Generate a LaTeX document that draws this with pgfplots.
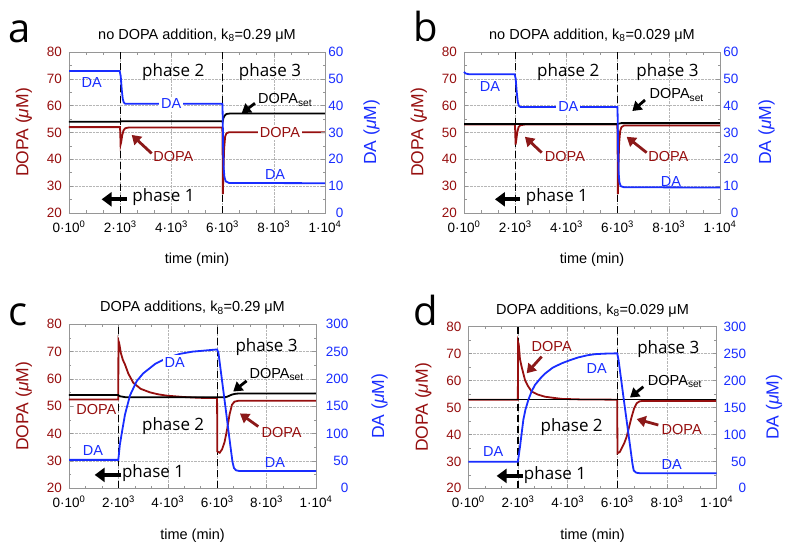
\documentclass[border=0pt]{standalone}
\usepackage{fontspec}
\setmainfont{Liberation Sans}
\newfontfamily\phasefont{Open Sans}
\usepackage{pgfplots}
\pgfplotsset{compat=1.18}
\usetikzlibrary{arrows.meta}
\definecolor{dred}{RGB}{150,15,15}
\definecolor{ared}{RGB}{140,25,25}
\definecolor{dblue}{RGB}{25,45,255}
\definecolor{axgray}{RGB}{150,150,150}
\newcommand{\fs}[1]{\fontsize{#1}{#1}\selectfont}
\tikzset{
  dopa/.style={dred, line width=1.8pt},
  da/.style={dblue, line width=1.8pt},
  dset/.style={black, line width=1.8pt},
  vdash/.style={black, line width=1.1pt, dash pattern=on 7pt off 4pt},
  lab/.style={font=\fs{14.5}, inner sep=1pt},
  wlab/.style={font=\fs{14.5}, inner sep=2pt, fill=white},
  phase/.style={font=\phasefont\fs{17}},
  arr/.style={line width=2.8pt, -{Triangle[length=9pt,width=11pt]}},
  barr/.style={black, line width=4pt, -{Triangle[length=10pt,width=14pt]}},
}
\pgfplotsset{
  leftax/.style={scale only axis, xmin=0,xmax=10000, ymin=20,ymax=80,
    xtick={0,2000,4000,6000,8000,10000}, scaled x ticks=false,
    xticklabels={0·10\textsuperscript{0},2·10\textsuperscript{3},4·10\textsuperscript{3},6·10\textsuperscript{3},8·10\textsuperscript{3},1·10\textsuperscript{4}},
    ytick={20,30,...,80}, minor x tick num=2, minor y tick num=1,
    xtick pos=both, ytick pos=left, tick align=inside,
    major tick length=4pt, minor tick length=2.5pt,
    every tick/.style={axgray, line width=0.6pt},
    axis line style={axgray, line width=0.7pt},
    grid=major, major grid style={axgray!70, densely dotted, line width=0.5pt},
    /pgf/number format/assume math mode=true,
    tick label style={font=\fs{13.5}},
    xticklabel style={yshift=-4pt},
    yticklabel style={text=dred, xshift=-3.5pt},
    xlabel={time (min)}, ylabel={DOPA (\textit{μ}M)},
    xlabel style={font=\fs{14.5}, yshift=-14pt}, ylabel style={font=\fs{17.5}, text=dred, yshift=8pt},
    title style={font=\fs{14.5}},
    no markers,
  },
  rightax/.style={scale only axis, xmin=0,xmax=10000, axis x line=none, axis y line*=right,
    ytick pos=right, tick align=inside, minor y tick num=1,
    major tick length=4pt, minor tick length=2.5pt,
    every tick/.style={axgray, line width=0.6pt},
    axis line style={axgray, line width=0.7pt},
    /pgf/number format/assume math mode=true,
    tick label style={font=\fs{13.5}},
    ylabel={DA (\textit{μ}M)}, ylabel style={font=\fs{17.5}, text=dblue},
    clip=false, no markers,
  },
}
\begin{document}
\begin{tikzpicture}
\path[use as bounding box] (0,0) rectangle (790pt,-548pt);
\node[anchor=base west, font=\phasefont\fs{40}] at (5pt,-42.5pt) {a};
\node[anchor=base west, font=\phasefont\fs{40}] at (410pt,-42pt) {b};
\node[anchor=base west, font=\phasefont\fs{40}] at (5pt,-325pt) {c};
\node[anchor=base west, font=\phasefont\fs{40}] at (410pt,-325pt) {d};

% ---------------- panel a
\begin{axis}[leftax, at={(69pt,-213pt)}, anchor=south west, width=256pt, height=161pt,
  title={no DOPA addition, k\textsubscript{8}=0.29 μM}]
\addplot[vdash] coordinates {(2000,20)(2000,80)};
\addplot[vdash] coordinates {(6000,20)(6000,80)};
\addplot[dopa] coordinates {(0,52)(1990,52)(2000,50.5)(2015,45.5)(2040,46.5)(2080,49)(2130,50.8)(2200,51.6)(2350,51.9)(5990,51.9)(6000,45)(6010,27)(6030,35)(6060,44)(6100,48.5)(6150,49.7)(6250,50.1)(10000,50.1)};
\addplot[dset] coordinates {(0,54)(1995,54)(2050,54.2)(5995,54.2)(6000,54)(6030,55.3)(6080,56.3)(6150,56.9)(6300,57.1)(10000,57.1)};
\end{axis}
\begin{axis}[rightax, at={(69pt,-213pt)}, anchor=south west, width=256pt, height=161pt,
  ymin=0, ymax=60, ytick={0,10,...,60},
  yticklabel style={text=dblue, anchor=east, xshift=22pt}, ylabel style={yshift=-13pt}]
\addplot[da] coordinates {(0,52.9)(1980,52.9)(2020,51)(2060,46)(2100,42.5)(2140,41.2)(2200,40.7)(5990,40.7)(6000,38)(6020,25)(6040,17)(6070,13.5)(6120,11.8)(6250,11.2)(10000,11.1)};
\node[lab, text=dblue] at (axis cs:885,48.6) {DA};
\node[phase] at (axis cs:4070,52.7) {phase 2};
\node[phase] at (axis cs:7850,52.7) {phase 3};
\node[wlab, text=dblue] at (axis cs:3990,40.7) {DA};
\node[lab] at (axis cs:8440,42.1) {DOPA\textsubscript{set}};
\draw[arr, black] (axis cs:7265,40.9) -- (axis cs:6745,37.2);
\node[wlab, text=dred] at (axis cs:8240,30.1) {DOPA};
\node[lab, text=dred] at (axis cs:4075,21.0) {DOPA};
\draw[arr, ared] (axis cs:3230,22.2) -- (axis cs:2450,29.1);
\node[lab, text=dblue] at (axis cs:8050,14.5) {DA};
\node[phase] at (axis cs:3690,5.9) {phase 1};
\draw[barr] (axis cs:2250,5.1) -- (axis cs:1275,5.1);
\end{axis}

% ---------------- panel b
\begin{axis}[leftax, at={(464pt,-213pt)}, anchor=south west, width=256pt, height=161pt,
  title={no DOPA addition, k\textsubscript{8}=0.029 μM}]
\addplot[vdash] coordinates {(2000,20)(2000,80)};
\addplot[vdash] coordinates {(6000,20)(6000,80)};
\addplot[dopa] coordinates {(0,53)(1990,53)(2000,50.5)(2015,45.5)(2040,47)(2080,50)(2130,52)(2200,52.7)(2400,53)(5990,53)(6000,45)(6010,27)(6030,36)(6060,46)(6100,50.5)(6150,52)(6250,52.6)(10000,52.6)};
\addplot[dset] coordinates {(0,53.2)(5995,53.2)(6050,53.3)(6150,53.5)(10000,53.5)};
\end{axis}
\begin{axis}[rightax, at={(464pt,-213pt)}, anchor=south west, width=256pt, height=161pt,
  ymin=0, ymax=60, ytick={0,10,...,60},
  yticklabel style={text=dblue, anchor=east, xshift=22pt}, ylabel style={yshift=-13pt}]
\addplot[da] coordinates {(0,52.6)(60,52)(200,51.7)(1980,51.7)(2020,50)(2060,45)(2100,41.5)(2140,40)(2200,39.5)(5990,39.5)(6000,37)(6020,24)(6040,15)(6070,11.5)(6120,10)(6250,9.6)(10000,9.5)};
\node[lab, text=dblue] at (axis cs:1015,47.3) {DA};
\node[phase] at (axis cs:4070,52.7) {phase 2};
\node[phase] at (axis cs:7950,52.7) {phase 3};
\node[wlab, text=dblue] at (axis cs:4075,39.5) {DA};
\node[lab] at (axis cs:8310,44.0) {DOPA\textsubscript{set}};
\draw[arr, black] (axis cs:7070,42.1) -- (axis cs:6575,38.0);
\node[lab, text=dred] at (axis cs:3945,21.0) {DOPA};
\draw[arr, ared] (axis cs:3035,22.5) -- (axis cs:2380,28.4);
\node[lab, text=dred] at (axis cs:7980,21.0) {DOPA};
\draw[arr, ared] (axis cs:7135,22.5) -- (axis cs:6355,28.4);
\node[lab, text=dblue] at (axis cs:8085,11.9) {DA};
\node[phase] at (axis cs:3630,5.9) {phase 1};
\draw[barr] (axis cs:2190,5.1) -- (axis cs:1210,5.1);
\end{axis}

% ---------------- panel c
\begin{axis}[leftax, at={(69pt,-488.3pt)}, anchor=south west, width=247pt, height=164pt,
  title={DOPA additions, k\textsubscript{8}=0.29 μM}]
\addplot[vdash] coordinates {(2000,20)(2000,80)};
\addplot[vdash] coordinates {(6000,20)(6000,80)};
\addplot[dopa] coordinates {(0,52.5)(1995,52.5)(2002,74)(2030,73.2)(2100,69.5)(2180,67)(2267,65.3)(2400,62)(2603,58.6)(2900,56.4)(3279,55.1)(3600,54.4)(3955,53.9)(4630,53.4)(5300,53.1)(5995,53)(6005,33.5)(6100,33)(6200,34.3)(6300,37)(6400,41.5)(6500,47)(6600,50.6)(6700,51.7)(6850,52)(10000,52)};
\addplot[dset] coordinates {(0,54.1)(1990,54.1)(2050,53.7)(2300,53.3)(6300,53.3)(6400,53.5)(6500,53.9)(6600,54.3)(6750,54.6)(6900,54.7)(10000,54.7)};
\end{axis}
\begin{axis}[rightax, at={(69pt,-488.3pt)}, anchor=south west, width=247pt, height=164pt,
  ymin=0, ymax=300, ytick={0,50,...,300},
  yticklabel style={text=dblue, anchor=east, xshift=36pt}, ylabel style={yshift=-16pt}]
\addplot[da] coordinates {(0,52)(1995,52)(2020,62)(2060,80)(2133,100)(2267,135)(2470,170)(2740,196)(3000,210)(3500,228)(4000,239)(4500,246)(5000,250)(5500,252)(5995,254)(6050,248)(6150,213)(6250,178)(6350,143)(6450,107)(6550,72)(6620,48)(6680,37)(6760,33)(6900,31.5)(10000,31.5)};
\node[wlab, text=dred] at (axis cs:1108,143.5) {DOPA};
\node[lab, text=dblue] at (axis cs:973,70) {DA};
\node[phase] at (axis cs:3405,27.5) {phase 1};
\draw[barr] (axis cs:2120,24.5) -- (axis cs:1040,24.5);
\node[phase] at (axis cs:4216,113) {phase 2};
\node[wlab, text=dblue] at (axis cs:4284,230.5) {DA};
\node[phase] at (axis cs:8000,257.5) {phase 3};
\node[lab] at (axis cs:8405,207.5) {DOPA\textsubscript{set}};
\draw[arr, black] (axis cs:7190,196.5) -- (axis cs:6650,177);
\node[lab, text=dred] at (axis cs:8608,102.5) {DOPA};
\draw[arr, ared] (axis cs:7662,113) -- (axis cs:6920,137);
\node[lab, text=dblue] at (axis cs:8338,47.5) {DA};
\end{axis}

% ---------------- panel d
\begin{axis}[leftax, at={(468.3pt,-488.3pt)}, anchor=south west, width=248.4pt, height=161.6pt,
  title={DOPA additions, k\textsubscript{8}=0.029 μM}]
\addplot[vdash] coordinates {(2000,20)(2000,80)};
\addplot[vdash] coordinates {(6000,20)(6000,80)};
\addplot[dopa] coordinates {(0,52.9)(1995,52.9)(2002,74.4)(2030,73.5)(2080,68)(2150,65)(2283,60.2)(2400,58)(2552,55.9)(2800,54.8)(3088,54)(3500,53.5)(3759,53.2)(4500,53)(5995,52.9)(6005,33)(6100,33.5)(6175,34.9)(6280,36.8)(6377,39.2)(6480,43)(6578,46.6)(6680,49.8)(6779,51.6)(6900,52.3)(6980,52.4)(10000,52.4)};
\addplot[dset] coordinates {(0,53)(10000,53)};
\end{axis}
\begin{axis}[rightax, at={(468.3pt,-488.3pt)}, anchor=south west, width=248.4pt, height=161.6pt,
  ymin=0, ymax=300, ytick={0,50,...,300},
  yticklabel style={text=dblue, anchor=east, xshift=33pt}, ylabel style={yshift=-13pt}]
\addplot[da] coordinates {(0,49.4)(1995,49.4)(2020,57)(2081,77)(2150,103)(2215,127)(2300,146)(2416,164)(2550,180)(2685,192)(2900,204)(3088,213)(3400,224)(3760,232)(4100,238)(4428,243)(4800,247)(5100,249)(5500,250)(5995,250.6)(6050,238)(6150,203)(6250,168)(6350,134)(6450,100)(6550,66)(6610,45)(6660,33)(6760,29)(6900,28)(10000,27.8)};
\node[lab, text=dred] at (axis cs:3356,263) {DOPA};
\draw[arr, ared] (axis cs:2953,244.5) -- (axis cs:2349,213.5);
\node[wlab, text=dblue] at (axis cs:5168,222.5) {DA};
\node[phase] at (axis cs:8054,258.5) {phase 3};
\node[lab] at (axis cs:8322,199) {DOPA\textsubscript{set}};
\draw[arr, black] (axis cs:7047,188.5) -- (axis cs:6510,168.5);
\node[phase] at (axis cs:4161,114.5) {phase 2};
\node[lab, text=dred] at (axis cs:8591,108.5) {DOPA};
\draw[arr, ared] (axis cs:7651,117.5) -- (axis cs:6779,128.5);
\node[lab, text=dblue] at (axis cs:1007,68) {DA};
\node[phase] at (axis cs:3490,25) {phase 1};
\draw[barr] (axis cs:2215,23) -- (axis cs:1141,23);
\node[lab, text=dblue] at (axis cs:8188,43.5) {DA};
\end{axis}
\end{tikzpicture}
\end{document}
